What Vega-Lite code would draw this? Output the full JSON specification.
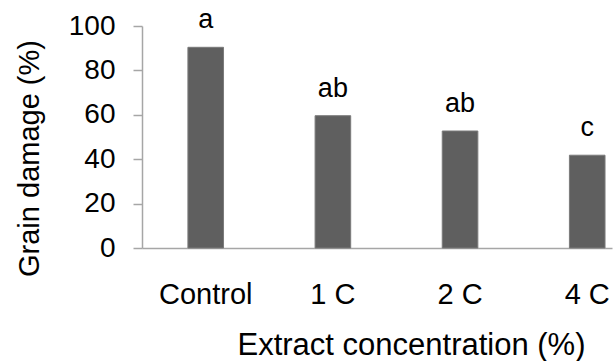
{
  "$schema": "https://vega.github.io/schema/vega-lite/v6.json",
  "width": 470,
  "height": 222,
  "autosize": "none",
  "padding": {"left": 142, "top": 26, "right": 3, "bottom": 113},
  "background": "white",
  "config": {"view": {"stroke": null}, "font": "Liberation Sans"},
  "data": {"values": [
    {"conc": "Control", "damage": 90.4, "group": "a"},
    {"conc": "1 C", "damage": 59.6, "group": "ab"},
    {"conc": "2 C", "damage": 52.7, "group": "ab"},
    {"conc": "4 C", "damage": 41.8, "group": "c"}
  ]},
  "encoding": {
    "x": {"field": "conc", "type": "nominal", "sort": null,
      "scale": {"paddingInner": 0.72, "paddingOuter": 0.208, "align": 0.868},
      "axis": {"title": "Extract concentration (%)", "labelAngle": 0, "ticks": false, "tickSize": 0,
        "domainColor": "#a6a6a6", "domainWidth": 1.5,
        "labelFont": "Liberation Sans", "labelFontSize": 29, "labelColor": "#000000",
        "labelBaseline": "alphabetic", "labelPadding": 55,
        "titleFont": "Liberation Sans", "titleFontSize": 31, "titleFontWeight": "normal", "titleColor": "#000000",
        "titleBaseline": "alphabetic", "titleX": 269, "titleY": 106, "titleAlign": "center"}},
    "y": {"field": "damage", "type": "quantitative",
      "scale": {"domain": [0, 100], "nice": false},
      "axis": {"title": "Grain damage (%)", "values": [0, 20, 40, 60, 80, 100], "grid": false,
        "domainColor": "#a6a6a6", "domainWidth": 1.5, "tickColor": "#a6a6a6", "tickWidth": 1.5, "tickSize": 9,
        "labelFont": "Liberation Sans", "labelFontSize": 28, "labelColor": "#000000", "labelPadding": 18,
        "titleFont": "Liberation Sans", "titleFontSize": 29, "titleFontWeight": "normal", "titleColor": "#000000",
        "titleBaseline": "alphabetic", "titleAngle": -90, "titleX": -104, "titleY": 132, "titleAlign": "center"}}
  },
  "layer": [
    {"mark": {"type": "bar", "color": "#5f5f5f", "stroke": "#7a7a7a", "strokeWidth": 1}},
    {"mark": {"type": "text", "dy": -19, "baseline": "alphabetic", "fontSize": 27, "font": "Liberation Sans", "color": "#000000"},
      "encoding": {"text": {"field": "group"}}}
  ]
}
